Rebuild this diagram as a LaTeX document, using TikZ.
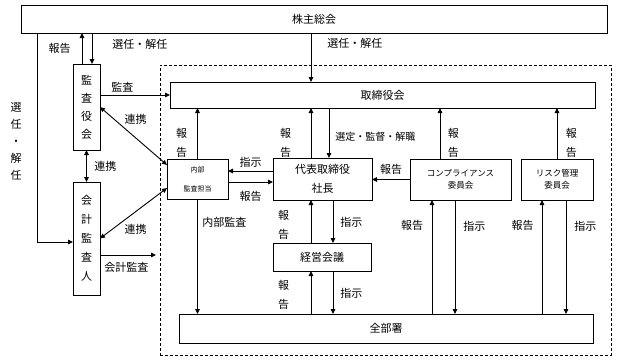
\documentclass[tikz,border=0pt]{standalone}
\usepackage{fontspec}
\setmainfont{Noto Sans CJK JP}
\usetikzlibrary{positioning,arrows.meta}
\newcommand{\boxfont}{\fontsize{11}{19}\selectfont}
\newcommand{\tatefont}{\fontsize{11}{18}\selectfont}
\newcommand{\smallbox}{\fontsize{8.5}{12}\selectfont}
\newcommand{\tinybox}{\fontsize{7}{19}\selectfont}
\newcommand{\lblfont}{\fontsize{11}{19}\selectfont}

\begin{document}
\begin{tikzpicture}[x=1pt,y=-1pt,>={Triangle[length=5pt,width=4.5pt]},line width=0.9pt,
    box/.style={draw,inner sep=0pt,outer sep=0pt,align=center,font=\boxfont},
    lbl/.style={inner sep=0pt,font=\lblfont},
    vlbl/.style={inner sep=0pt,align=center,font=\lblfont}]
  \useasboundingbox (0,0) rectangle (627,360);
  % frame of the company
  \node[draw,dash pattern=on 3pt off 2pt,inner sep=0pt,outer sep=0pt,minimum width=451pt,minimum height=290pt] (frame) at (385.5,210) {};
  % boxes
  \node[box,minimum width=586pt,minimum height=28pt] (kabu) at (314,19) {株主総会};
  \node[box,minimum width=425pt,minimum height=26pt] (torishimari) at (382.5,95) {取締役会};
  \node[box,font=\tatefont,minimum width=27pt,minimum height=86pt] (kansayaku) at (86.5,107) {監\\査\\役\\会};
  \node[box,minimum width=27pt,minimum height=113pt] (kaikei) at (86.5,238.5) {会\\計\\監\\査\\人};
  \node[box,font=\tinybox,minimum width=61pt,minimum height=40pt] (naibu) at (197.5,179) {内部\\監査担当};
  \node[box,minimum width=99pt,minimum height=42pt] (daihyo) at (322.5,179) {代表取締役\\社長};
  \node[box,font=\smallbox,minimum width=101pt,minimum height=41pt] (comp) at (460.5,179.5) {コンプライアンス\\委員会};
  \node[box,font=\smallbox,minimum width=72pt,minimum height=41pt] (risk) at (557,179.5) {リスク管理\\委員会};
  \node[box,minimum width=98pt,minimum height=28pt] (keiei) at (322,257) {経営会議};
  \node[box,minimum width=414pt,minimum height=29pt] (zenbu) at (386,328.5) {全部署};
  \node[vlbl,font=\fontsize{11}{17}\selectfont] (senninL) at (16,141) {選\\任\\・\\解\\任};

  % shareholders
  \draw[->] ([xshift=-4.5pt]kansayaku.north) -- node[lbl,midway,left=11pt]{報告} ([xshift=-4.5pt]kansayaku.north |- kabu.south);
  \draw[->] ([xshift=5.5pt]kansayaku.north |- kabu.south) -- node[lbl,pos=0.35,right=20pt]{選任・解任} ([xshift=5.5pt]kansayaku.north);
  \draw[->] ([xshift=16pt]kabu.south west) |- ([yshift=-3.5pt]kaikei.west);
  \draw[->] ([xshift=-71.5pt]torishimari.north |- kabu.south) -- node[lbl,pos=0.22,right=16pt]{選任・解任} ([xshift=-71.5pt]torishimari.north);

  % auditors
  \draw[->] (kansayaku.east |- torishimari.west) -- node[lbl,pos=0.32,above=2pt]{監査} (torishimari.west);
  \draw[<->] (kansayaku.east) -- node[lbl,pos=0.3,anchor=south west,xshift=4pt]{連携} ([yshift=-6pt]naibu.north west);
  \draw[<->] (kansayaku.south) -- node[lbl,midway,right=7.5pt]{連携} (kaikei.north);
  \draw[<->] (kaikei.east) -- node[lbl,pos=0.3,anchor=north west,xshift=4pt]{連携} ([yshift=11pt]naibu.south west);
  \draw[->,shorten >=4pt] ([yshift=-16.5pt]kaikei.east) -- node[lbl,pos=0.44,below=7pt]{会計監査} ([yshift=-16.5pt]kaikei.east -| frame.west);

  % board
  \draw[->] (naibu.north) -- node[vlbl,pos=0.32,left=10pt]{報\\告} (naibu.north |- torishimari.south);
  \draw[->] ([xshift=-11.5pt]daihyo.north) -- node[vlbl,pos=0.31,left=19.5pt]{報\\告} ([xshift=-11.5pt]daihyo.north |- torishimari.south);
  \draw[->] ([xshift=6.5pt]daihyo.north |- torishimari.south) -- node[lbl,font=\fontsize{10}{12}\selectfont,pos=0.58,right=6pt]{選定・監督・解職} ([xshift=6.5pt]daihyo.north);
  \draw[->] ([xshift=-20.5pt]comp.north) -- node[vlbl,pos=0.32,right=7.5pt]{報\\告} ([xshift=-20.5pt]comp.north |- torishimari.south);
  \draw[->] (risk.north) -- node[vlbl,pos=0.32,right=8.5pt]{報\\告} (risk.north |- torishimari.south);

  % president
  \draw[->] ([yshift=8pt]daihyo.west) -- node[lbl,midway,above=3.5pt]{指示} ([yshift=8pt]daihyo.west -| naibu.east);
  \draw[->] ([yshift=-3pt]naibu.east) -- node[lbl,midway,below=8.5pt]{報告} ([yshift=-3pt]naibu.east -| daihyo.west);
  \draw[->] (comp.west) -- node[lbl,midway,above=5pt]{報告} (comp.west -| daihyo.east);
  \draw[->] (naibu.south) -- node[lbl,pos=0.2,right=4.5pt]{内部監査} (naibu.south |- zenbu.north);

  % management meeting
  \draw[->] ([xshift=-11.5pt]daihyo.south |- keiei.north) -- node[vlbl,pos=0.43,left=21.5pt]{報\\告} ([xshift=-11.5pt]daihyo.south);
  \draw[->] ([xshift=10.5pt]daihyo.south) -- node[lbl,pos=0.53,right=7pt]{指示} ([xshift=10.5pt]daihyo.south |- keiei.north);
  \draw[->] ([xshift=-11.5pt]daihyo.south |- zenbu.north) -- node[vlbl,pos=0.44,left=21.5pt]{報\\告} ([xshift=-11.5pt]daihyo.south |- keiei.south);
  \draw[->] ([xshift=10.5pt]daihyo.south |- keiei.south) -- node[lbl,pos=0.51,right=7pt]{指示} ([xshift=10.5pt]daihyo.south |- zenbu.north);

  % committees
  \draw[->] ([xshift=-28.5pt]comp.south |- zenbu.north) -- node[lbl,pos=0.78,left=8.5pt]{報告} ([xshift=-28.5pt]comp.south);
  \draw[->] ([xshift=-5.5pt]comp.south) -- node[lbl,pos=0.23,right=8pt]{指示} ([xshift=-5.5pt]comp.south |- zenbu.north);
  \draw[->] ([xshift=-15pt]risk.south |- zenbu.north) -- node[lbl,pos=0.78,left=8pt]{報告} ([xshift=-15pt]risk.south);
  \draw[->] ([xshift=9pt]risk.south) -- node[lbl,pos=0.23,right=8pt]{指示} ([xshift=9pt]risk.south |- zenbu.north);
\end{tikzpicture}
\end{document}
